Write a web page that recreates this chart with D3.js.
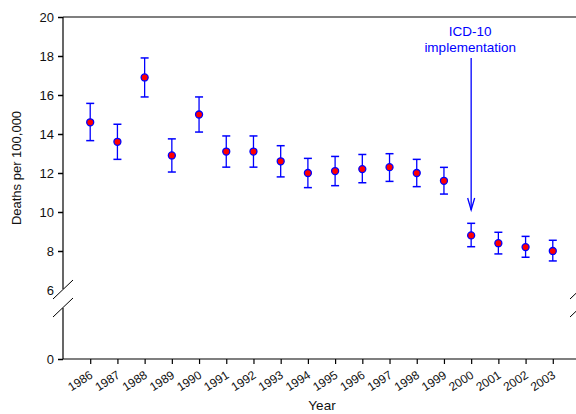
<!DOCTYPE html>
<html><head><meta charset="utf-8">
<script src="https://cdn.jsdelivr.net/npm/d3@7"></script>
<style>body{margin:0;background:#fff}svg{display:block;font-family:"Liberation Sans",Arial,sans-serif}</style>
</head><body><svg id="c" width="576" height="414"></svg>
<script>
const years = [1986,1987,1988,1989,1990,1991,1992,1993,1994,1995,1996,1997,1998,1999,2000,2001,2002,2003];
const rates = [14.6,13.6,16.9,12.9,15.0,13.1,13.1,12.6,12.0,12.1,12.2,12.3,12.0,11.6,8.8,8.4,8.2,8.0];
const lower = [13.66,12.7,15.9,12.05,14.1,12.3,12.3,11.8,11.25,11.35,11.5,11.57,11.3,10.92,8.22,7.85,7.68,7.49];
const upper = [15.57,14.5,17.9,13.75,15.9,13.9,13.9,13.4,12.75,12.85,12.95,12.99,12.7,12.29,9.42,8.96,8.75,8.55];
const yTicksUpper = [8,10,12,14,16,18,20];
const yLabelOnly = [6];
const yTicksLower = [0];
const annotation = ["ICD-10","implementation"];
const annotationYear = 2000;

const svg = d3.select("#c");
const x = d3.scaleLinear().domain([1985,2004]).range([63,580]);
const yU = d3.scaleLinear().domain([6,20]).range([290,17]);
const yL = d3.scaleLinear().domain([0,1]).range([359,339.5]);
const blue = "#0000ff";
const FONT = "Liberation Sans, Arial, sans-serif";

// frame top line
svg.append("line").attr("x1",63).attr("x2",576).attr("y1",17).attr("y2",17).attr("stroke","#000").attr("stroke-width",1.2);

// y axes
const gU = svg.append("g").attr("transform","translate(63,0)")
  .call(d3.axisLeft(yU).tickValues(yTicksUpper).tickSize(5).tickPadding(4).tickFormat(d3.format("d")));
const gU2 = svg.append("g").attr("transform","translate(63,0)")
  .call(d3.axisLeft(yU).tickValues(yLabelOnly).tickSize(0).tickPadding(9).tickFormat(d3.format("d")));
const gL = svg.append("g").attr("transform","translate(63,0)")
  .call(d3.axisLeft(yL).tickValues(yTicksLower).tickSize(5).tickPadding(4).tickFormat(d3.format("d")));
[gU,gU2,gL].forEach(g=>{
  g.select(".domain").remove();
  g.selectAll("line").attr("stroke","#000").attr("stroke-width",1.5);
  g.selectAll("text").attr("font-size",13).attr("fill","#111").attr("font-family",FONT);
});
svg.append("line").attr("x1",63).attr("x2",63).attr("y1",yU(20)).attr("y2",289).attr("stroke","#000").attr("stroke-width",1.2);
svg.append("line").attr("x1",63).attr("x2",63).attr("y1",308).attr("y2",yL(0)).attr("stroke","#000").attr("stroke-width",1.2);

// x axis
const gx = svg.append("g").attr("transform",`translate(0,${yL(0)})`)
  .call(d3.axisBottom(x).tickValues(years).tickSize(5).tickFormat(d3.format("d")));
gx.select(".domain").remove();
svg.append("line").attr("x1",63).attr("x2",576).attr("y1",yL(0)).attr("y2",yL(0)).attr("stroke","#000").attr("stroke-width",1.2);
gx.selectAll("line").attr("stroke","#000").attr("stroke-width",1.2);
gx.selectAll("text").attr("font-size",12).attr("fill","#111")
  .attr("font-family",FONT)
  .attr("text-anchor","end").attr("dy",0).attr("y",0)
  .attr("transform","translate(3,18) rotate(-33)");

// break marks
function brk(cx){
  [0,18].forEach(off=>{
    svg.append("line").attr("x1",cx-10).attr("y1",299+off).attr("x2",cx+10).attr("y2",280+off)
      .attr("stroke","#000").attr("stroke-width",1);
  });
}
brk(63); brk(580);

// axis titles
svg.append("text").attr("x",322).attr("y",410).attr("text-anchor","middle").attr("font-size",13.5).attr("fill","#111").text("Year");
svg.append("text").attr("transform","translate(21,168) rotate(-90)").attr("text-anchor","middle").attr("font-size",13).attr("fill","#111").text("Deaths per 100,000");

// error bars
const eb = svg.append("g");
years.forEach((yr,i)=>{
  const cx = x(yr);
  eb.append("line").attr("x1",cx).attr("x2",cx).attr("y1",yU(lower[i])).attr("y2",yU(upper[i])).attr("stroke",blue).attr("stroke-width",1.3);
  [lower[i],upper[i]].forEach(v=>eb.append("line").attr("x1",cx-4).attr("x2",cx+4).attr("y1",yU(v)).attr("y2",yU(v)).attr("stroke",blue).attr("stroke-width",1.5));
});
svg.append("g").selectAll("circle").data(years).join("circle")
  .attr("cx",d=>x(d)).attr("cy",(d,i)=>yU(rates[i])).attr("r",3.5)
  .attr("fill","#ff0000").attr("stroke",blue).attr("stroke-width",1.3);

// annotation
const ax = x(annotationYear);
svg.append("text").attr("x",ax-1).attr("y",36).attr("text-anchor","middle").attr("font-size",13.5).attr("fill",blue).text(annotation[0]);
svg.append("text").attr("x",ax-1).attr("y",52).attr("text-anchor","middle").attr("font-size",13.5).attr("fill",blue).text(annotation[1]);
svg.append("line").attr("x1",ax).attr("x2",ax).attr("y1",58).attr("y2",210).attr("stroke",blue).attr("stroke-width",1.3);
svg.append("path").attr("d",`M${ax-3.5},${198} L${ax},${210} L${ax+3.5},${198}`).attr("fill","none").attr("stroke",blue).attr("stroke-width",1.3);
</script></body></html>
